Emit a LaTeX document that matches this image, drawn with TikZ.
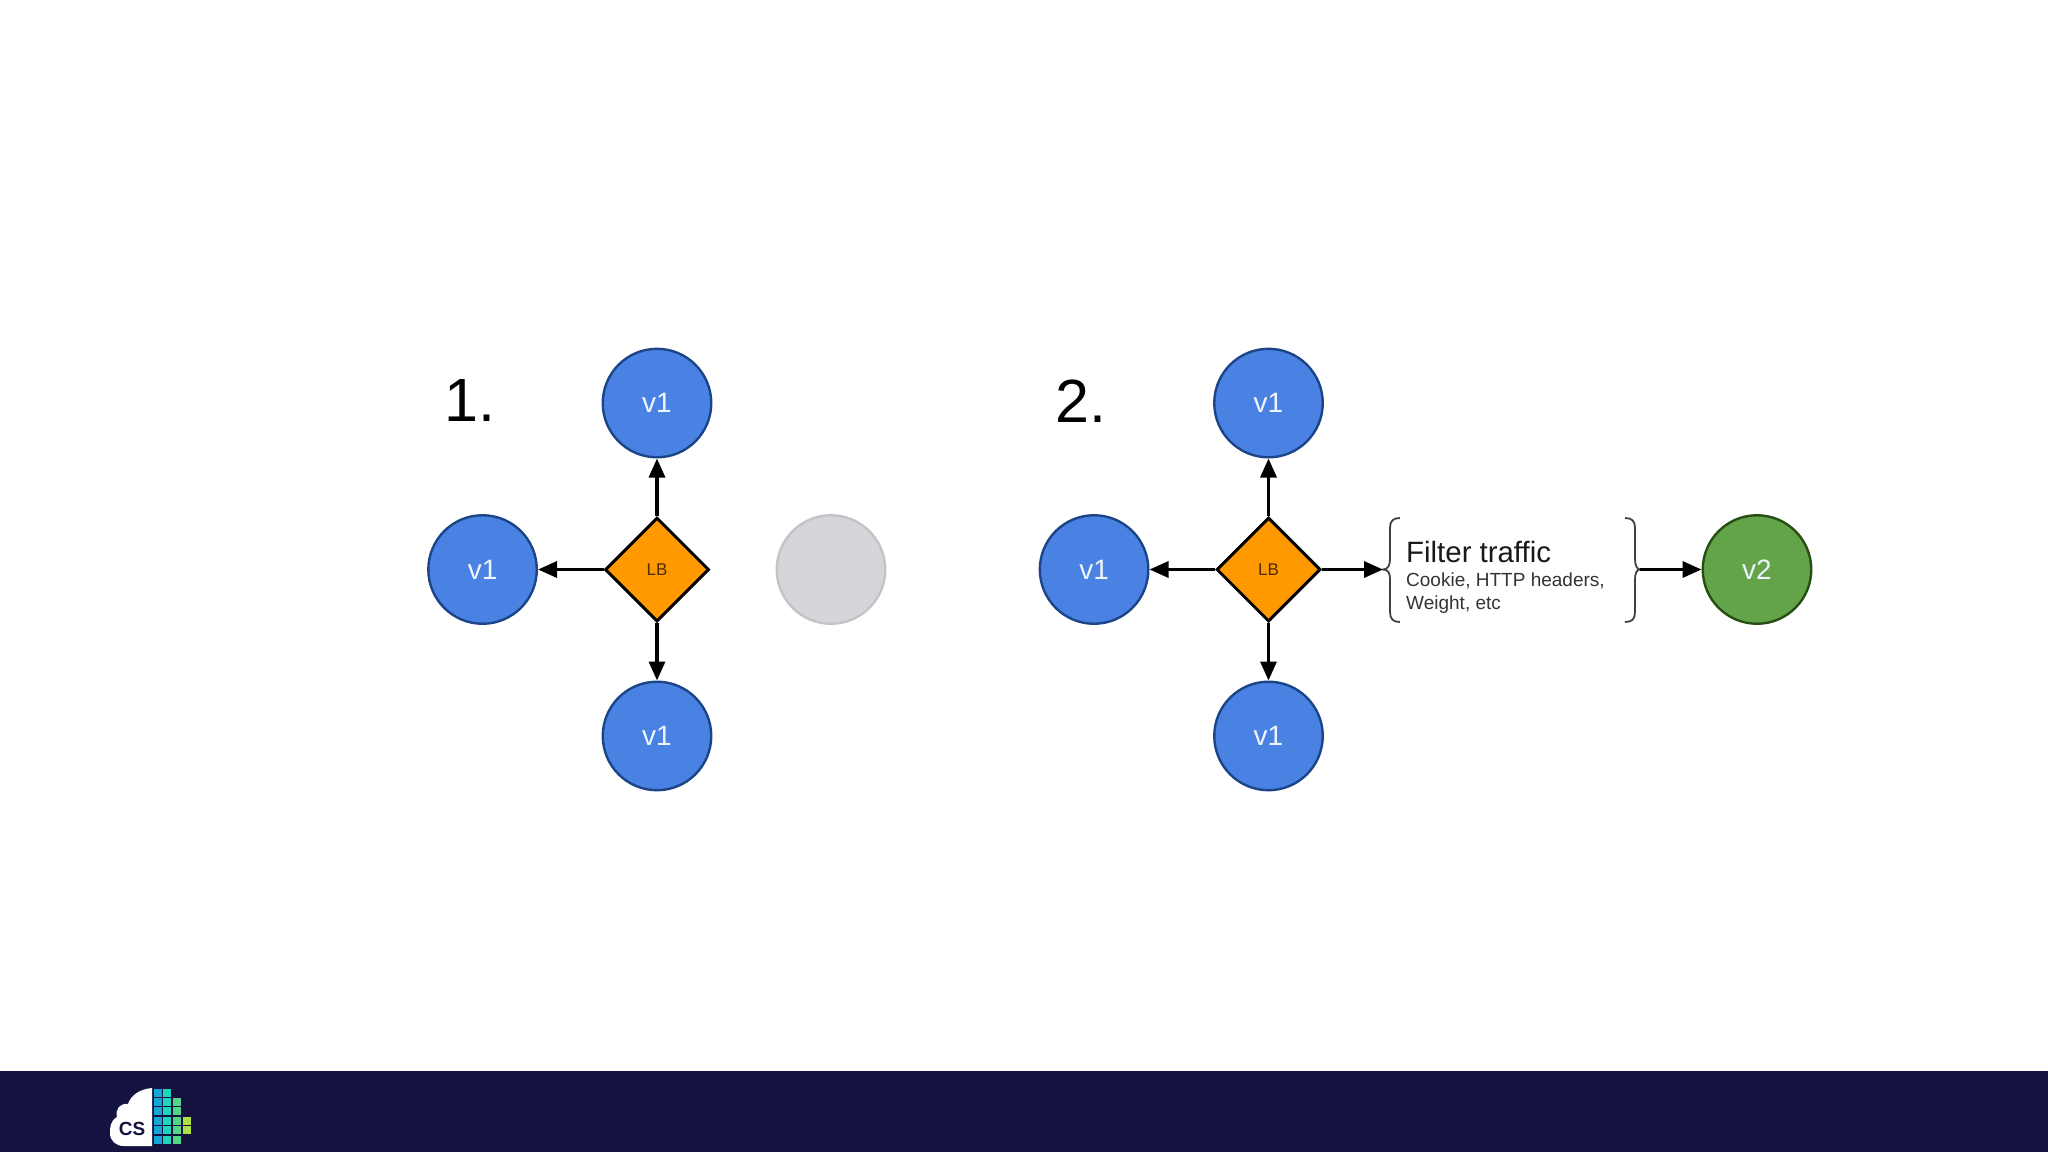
\documentclass[tikz,border=0pt]{standalone}
\usepackage{fontspec}
\setmainfont{Liberation Sans}
\usetikzlibrary{arrows.meta,positioning,shapes.geometric,calc}
\definecolor{BarNavy}{HTML}{14133F}
\definecolor{PodBlue}{HTML}{4A82E4}
\definecolor{PodBlueLine}{HTML}{1C4587}
\definecolor{PodGreen}{HTML}{63A34A}
\definecolor{PodGreenLine}{HTML}{274E13}
\definecolor{LbOrange}{HTML}{FF9900}
\definecolor{PodGrey}{HTML}{D6D5D9}
\definecolor{PodGreyLine}{HTML}{C4C3C7}
\definecolor{CellA}{HTML}{12A6D8}
\definecolor{CellB}{HTML}{1DD6BC}
\definecolor{CellC}{HTML}{55D684}
\definecolor{CellD}{HTML}{AEE044}
\tikzset{
  pod/.style={draw, circle, line width=2.4pt, inner sep=0pt, minimum size=108.5pt, align=center, font=\fontsize{28}{30}\selectfont, text=white!92!PodBlue},
  pod/v1/.style={pod, fill=PodBlue, draw=PodBlueLine},
  pod/v2/.style={pod, fill=PodGreen, draw=PodGreenLine},
  pod/idle/.style={pod, fill=PodGrey, draw=PodGreyLine},
  lb/.style={draw=black, diamond, line width=3pt, fill=LbOrange, inner sep=0pt, minimum width=104pt, minimum height=104pt, font=\fontsize{17}{18}\selectfont, text=black!70!LbOrange},
  arr/.style={-{Triangle[length=19pt,width=16pt]}, line width=3.3pt},
  stepnum/.style={font=\fontsize{61}{64}\selectfont, inner sep=0pt},
  filter/head/.style={font=\fontsize{29.4}{31}\selectfont, inner sep=0pt, anchor=west, text=black!90},
  filter/body/.style={font=\fontsize{19}{22.5}\selectfont, inner sep=0pt, anchor=north west, align=left, text=black!80},
  bracket/.style={draw=black!75, line width=1.8pt},
  cell/.style={minimum width=8pt, minimum height=8pt, inner sep=0pt}
}
\begin{document}
\begin{tikzpicture}[x=1pt,y=1pt,node distance=57.5pt and 65.5pt]
  \useasboundingbox (0,0) rectangle (2048,-1152);
  \fill[BarNavy] (0,-1071) rectangle (2048,-1152);

  % first stage
  \node[lb] (lbA) at (657,-569.5) {LB};
  \node[pod/v1, above=of lbA] (topA) {v1};
  \node[pod/v1, left=of lbA] (leftA) {v1};
  \node[pod/v1, below=of lbA] (downA) {v1};
  \node[pod/idle] (idleA) at (831,-569.5) {};
  \node[stepnum] (numA) at (470,-401) {1.};
  \draw[arr] (lbA) -- (topA);
  \draw[arr] (lbA) -- (leftA);
  \draw[arr] (lbA) -- (downA);

  % second stage
  \node[lb] (lbB) at (1268.5,-569.5) {LB};
  \node[pod/v1, above=of lbB] (topB) {v1};
  \node[pod/v1, left=of lbB] (leftB) {v1};
  \node[pod/v1, below=of lbB] (downB) {v1};
  \node[pod/v2] (newB) at (1757,-569.5) {v2};
  \node[stepnum] (numB) at (1081,-401) {2.};
  \draw[arr] (lbB) -- (topB);
  \draw[arr] (lbB) -- (leftB);
  \draw[arr] (lbB) -- (downB);

  % filter box
  \coordinate (braceL) at (1383,-569.5);
  \coordinate (braceR) at (1640,-569.5);
  \draw[bracket] (1400,-518) .. controls (1393,-518) and (1390,-521) .. (1390,-528) -- (1390,-559)
    .. controls (1390,-565) and (1388,-569.5) .. (braceL)
    .. controls (1388,-569.5) and (1390,-573) .. (1390,-579) -- (1390,-612)
    .. controls (1390,-619) and (1393,-622) .. (1400,-622);
  \draw[bracket] (1625,-518) .. controls (1632,-518) and (1635,-521) .. (1635,-528) -- (1635,-559)
    .. controls (1635,-565) and (1637,-569.5) .. (braceR)
    .. controls (1637,-569.5) and (1635,-573) .. (1635,-579) -- (1635,-612)
    .. controls (1635,-619) and (1632,-622) .. (1625,-622);
  \node[filter/head] (filterHead) at (1406,-552) {Filter traffic};
  \node[filter/body] (filterBody) at (1406,-573) {Cookie, HTTP headers,\\Weight, etc};
  \draw[arr] (lbB) -- (braceL);
  \draw[arr] (braceR) -- (newB);

  % logo
  \fill[white] (152,-1088) .. controls (140,-1089) and (131,-1095) .. (128,-1104)
    .. controls (120,-1103) and (115,-1109) .. (117,-1117)
    .. controls (110,-1121) and (110,-1128) .. (110,-1133)
    .. controls (110,-1141) and (116,-1146) .. (124,-1146) -- (152,-1146) -- cycle;
  \node[font=\bfseries\fontsize{19}{20}\selectfont, text=BarNavy, inner sep=0pt] (logoText) at (132,-1129) {CS};
  \foreach \row in {0,...,5} {
    \node[cell, fill=CellA] (cellA\row) at (157.7,-1092.5-9.4*\row) {};
    \node[cell, fill=CellB] (cellB\row) at (167.3,-1092.5-9.4*\row) {};
  }
  \foreach \row in {1,...,5} {
    \node[cell, fill=CellC] (cellC\row) at (177,-1092.5-9.4*\row) {};
  }
  \foreach \row in {3,4} {
    \node[cell, fill=CellD] (cellD\row) at (186.7,-1092.5-9.4*\row) {};
  }
\end{tikzpicture}
\end{document}
